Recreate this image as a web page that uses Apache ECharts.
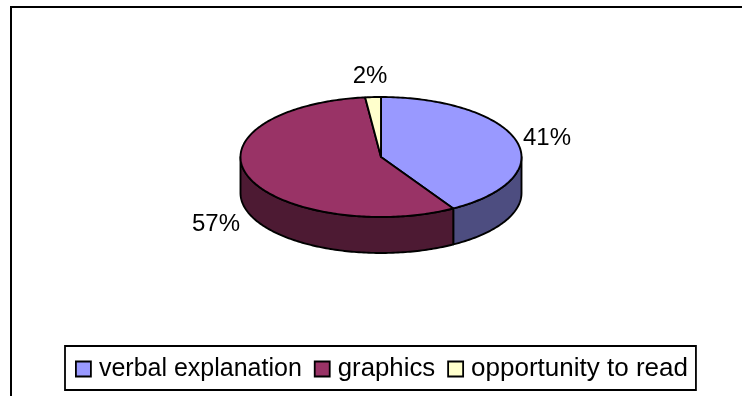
<!DOCTYPE html>
<html><head><meta charset="utf-8">
<style>html,body{margin:0;padding:0;background:#fff}#c{width:742px;height:396px}</style>
<script src="https://cdn.jsdelivr.net/npm/echarts@6/dist/echarts.min.js"></script>
</head><body><div id="c"></div>
<script>
const categories = ['verbal explanation', 'graphics', 'opportunity to read'];
const values = [41.4, 56.8, 1.8];
const topColors = ['#9999FF', '#993366', '#FFFFCC'];
const sideColors = ['#4D4D80', '#4D1A33', '#80804D'];

const FONT = '"Liberation Sans", Arial, sans-serif';
const CX = 381, CY = 157, RX = 140.5, RY = 60, DEPTH = 36;
const LABEL_POS = [[547, 138], [216, 224], [370, 76]];
const LEGEND_FONT = [25, 25.8, 26];
const total = values.reduce((a, b) => a + b, 0);
const rad = d => d * Math.PI / 180;
const pt = (a, off) => [CX + RX * Math.sin(rad(a)), CY - RY * Math.cos(rad(a)) + (off || 0)];

function arc(a0, a1, off) {
  const n = Math.max(2, Math.ceil(Math.abs(a1 - a0)));
  const out = [];
  for (let k = 0; k <= n; k++) out.push(pt(a0 + (a1 - a0) * k / n, off));
  return out;
}
function startAngle(i) {
  let s = 0;
  for (let k = 0; k < i; k++) s += values[k];
  return s / total * 360;
}
const stroke = { stroke: '#000', lineWidth: 1.9, lineJoin: 'round' };

function makeRender(i) {
  return function (params, api) {
    const v = api.value(0);
    const a0 = startAngle(i), a1 = a0 + v / total * 360;
    const children = [];
    const s0 = Math.max(a0, 90), s1 = Math.min(a1, 270);
    if (s1 > s0) {
      const pts = arc(s0, s1, 0).concat(arc(s1, s0, DEPTH));
      children.push({ type: 'polygon', shape: { points: pts },
        style: Object.assign({ fill: sideColors[i] }, stroke) });
    }
    const topPts = [[CX, CY]].concat(arc(a0, a1, 0));
    children.push({ type: 'polygon', shape: { points: topPts },
      style: Object.assign({ fill: topColors[i] }, stroke) });
    children.push({ type: 'text', x: LABEL_POS[i][0], y: LABEL_POS[i][1],
      style: { text: Math.round(v / total * 100) + '%', fontFamily: FONT, fontSize: 24,
        fill: '#000', align: 'center', verticalAlign: 'middle' } });
    return { type: 'group', children };
  };
}

const chart = echarts.init(document.getElementById('c'), null, { renderer: 'canvas' });
chart.setOption({
  animation: false,
  backgroundColor: '#fff',
  legend: {
    left: 65, top: 346,
    data: categories.map((name, i) => ({
      name,
      textStyle: { fontFamily: FONT, fontSize: LEGEND_FONT[i], color: '#000', padding: [0, 3, 0, 3] }
    })),
    icon: 'rect',
    itemWidth: 15, itemHeight: 15, itemGap: 12,
    padding: [10, 8, 8, 10],
    borderColor: '#000', borderWidth: 1.8,
    itemStyle: { borderColor: '#000', borderWidth: 1.8 },
    selectedMode: false,
    textStyle: { fontFamily: FONT, fontSize: 25.5, color: '#000', padding: [0, 3, 0, 3] }
  },
  graphic: [{ type: 'polyline', silent: true,
    shape: { points: [[11, 396], [11, 7], [742, 7]] },
    style: { stroke: '#000', lineWidth: 2, fill: null } }],
  series: categories.map((name, i) => ({
    type: 'custom',
    name,
    coordinateSystem: 'none',
    silent: true,
    itemStyle: { color: topColors[i] },
    data: [[values[i]]],
    renderItem: makeRender(i)
  }))
});
</script></body></html>
